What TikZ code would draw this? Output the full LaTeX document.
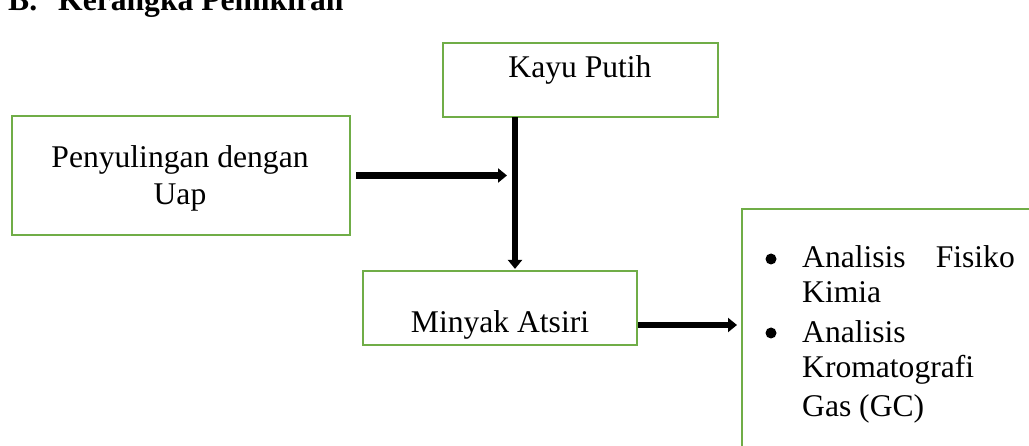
\documentclass[tikz,border=0pt]{standalone}
\usepackage{fontspec}
\setmainfont{Liberation Serif}
\usetikzlibrary{arrows.meta}
\definecolor{boxgreen}{HTML}{70AD47}
\tikzset{
  box/.style={draw=boxgreen, line width=2.2pt, inner sep=0pt},
  txt/.style={font=\fontsize{31.6}{37}\selectfont, inner sep=0pt, anchor=base},
  arr/.style={line width=6.5pt, -{Triangle[length=9pt,width=14pt]}},
  bul/.style={fill=black, circle, inner sep=0pt, minimum size=11pt}
}
\begin{document}
\begin{tikzpicture}[x=1pt,y=-1pt]
\useasboundingbox (0,0) rectangle (1029,446);
\fill[white] (0,0) rectangle (1029,446);
\begin{scope}
\clip (0,0) rectangle (1029,446);
% heading
\node[txt, anchor=base west, font=\fontsize{31.6}{37}\selectfont\bfseries] (hb) at (8,11) {B.};
\node[txt, anchor=base west, font=\fontsize{31.6}{37}\selectfont\bfseries] (hk) at (58,11) {Kerangka Pemikiran};
% boxes
\node[box, minimum width=275pt, minimum height=74pt] (kayu) at (580.5,80) {};
\node[box, minimum width=338pt, minimum height=119pt] (peny) at (181,175.5) {};
\node[box, minimum width=274pt, minimum height=74pt] (minyak) at (500,308) {};
\draw[box] (742,460) -- (742,209) -- (1040,209);
\coordinate (res) at (742,325);
% texts
\node[txt] (tkayu) at (580,78) {Kayu Putih};
\node[txt] (tpeny1) at (180,168) {Penyulingan dengan};
\node[txt] (tpeny2) at (180,205) {Uap};
\node[txt] (tminyak) at (500,333) {Minyak Atsiri};
\node[bul] (b1) at (771,259) {};
\node[bul] (b2) at (771,333) {};
\node[txt, anchor=base west] (l1) at (802,268) {Analisis};
\node[txt, anchor=base east] (l1b) at (1015,268) {Fisiko};
\node[txt, anchor=base west] (l2) at (802,303) {Kimia};
\node[txt, anchor=base west] (l3) at (802,343) {Analisis};
\node[txt, anchor=base west] (l4) at (802,378) {Kromatografi};
\node[txt, anchor=base west] (l5) at (802,417) {Gas (GC)};
% arrows
\coordinate (vx) at (515,0);
\coordinate (hend) at (507,175.5);
\coordinate (a3y) at (0,325);
\draw[arr] ([xshift=5pt]peny.east) -- (hend);
\draw[arr, shorten <=-1pt] (kayu.south -| vx) -- ([yshift=1pt]minyak.north -| vx);
\draw[arr] (minyak.east |- a3y) -- ([xshift=-5pt]res);
\end{scope}
\end{tikzpicture}
\end{document}
